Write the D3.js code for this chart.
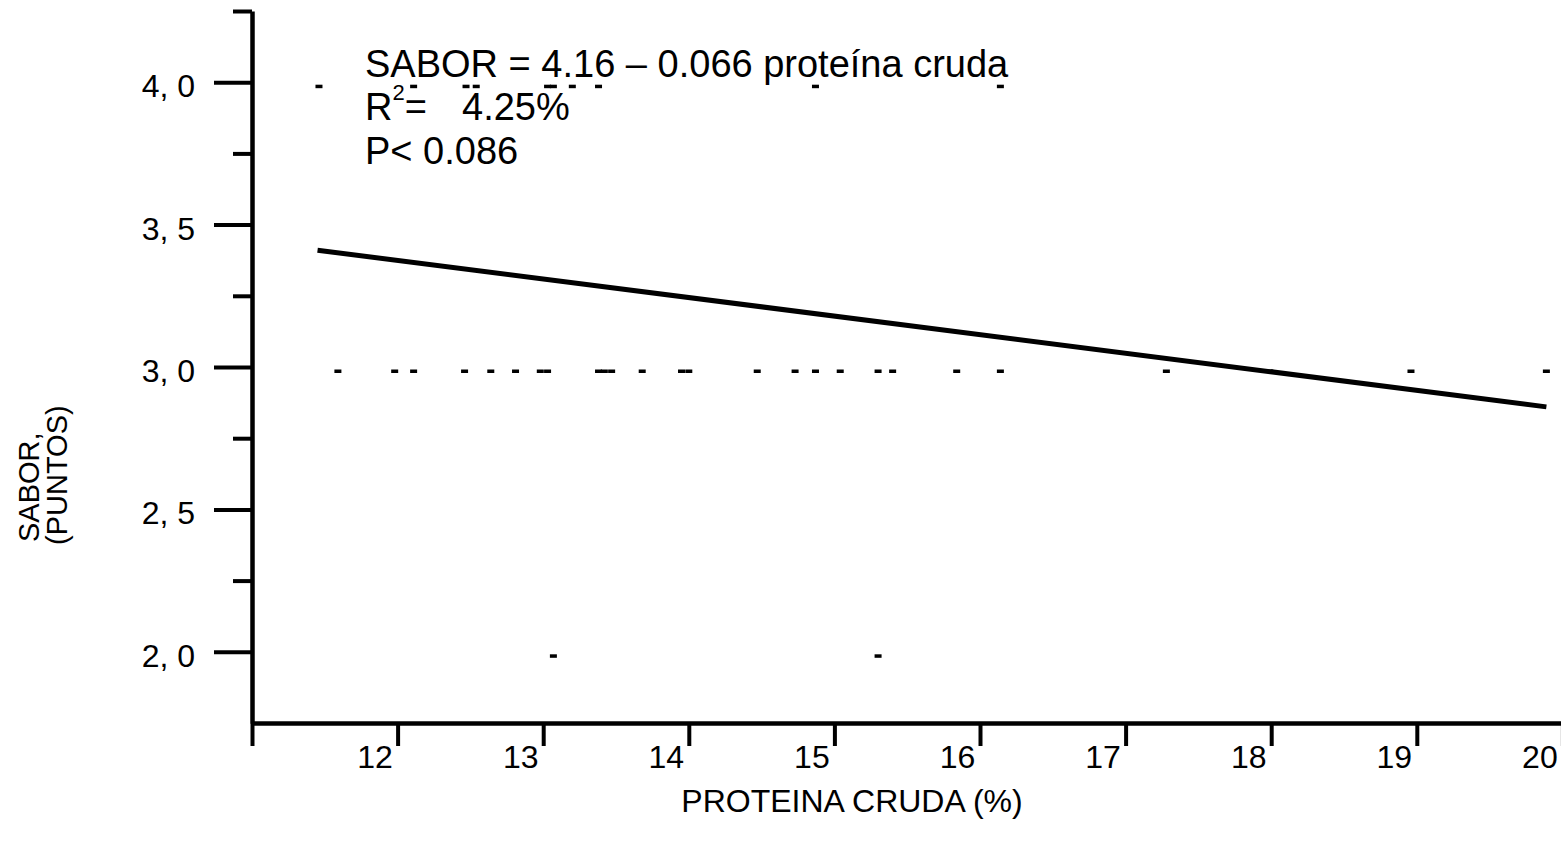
<!DOCTYPE html>
<html>
<head>
<meta charset="utf-8">
<script src="https://cdn.jsdelivr.net/npm/d3@7"></script>
<style>
  body { margin: 0; background: #ffffff; }
  svg { display: block; }
  text { font-family: "Liberation Sans", Arial, sans-serif; fill: #000; }
</style>
</head>
<body>
<svg id="chart" width="1561" height="850"></svg>
<script>
// ---------------- data ----------------
const xTicks = [11, 12, 13, 14, 15, 16, 17, 18, 19, 20];
const xTickLabels = ["", "12", "13", "14", "15", "16", "17", "18", "19", "20"];
const yMajorTicks = [2.0, 2.5, 3.0, 3.5, 4.0];
const yMajorLabels = ["2, 0", "2, 5", "3, 0", "3, 5", "4, 0"];
const yMinorTicks = [2.25, 2.75, 3.25, 3.75, 4.25];

// observations: proteína cruda (%) and sabor (puntos)
const proteina = [
  11.46, 12.11, 12.47, 12.54, 13.03, 13.07, 13.20, 13.38, 14.87, 16.14,
  11.59, 11.98, 12.11, 12.46, 12.64, 12.81, 12.98, 13.03, 13.38, 13.42,
  13.47, 13.68, 13.95, 14.00, 14.47, 14.73, 14.87, 15.04, 15.30, 15.40,
  15.84, 16.14, 17.28, 17.99, 18.96, 19.89,
  13.07, 15.30
];
const sabor = [
  4, 4, 4, 4, 4, 4, 4, 4, 4, 4,
  3, 3, 3, 3, 3, 3, 3, 3, 3, 3,
  3, 3, 3, 3, 3, 3, 3, 3, 3, 3,
  3, 3, 3, 3, 3, 3,
  2, 2
];

// fitted line end points (x, y)
const fitX = [11.45, 19.89];
const fitY = [3.41, 2.86];

const equationLine = "SABOR = 4.16 \u2013 0.066 proteína cruda";
const r2Value = "4.25%";
const pLine = "P< 0.086";
const xTitle = "PROTEINA CRUDA (%)";
const yTitle = ["SABOR,", "(PUNTOS)"];

// ---------------- drawing ----------------
const svg = d3.select("#chart");

const x = d3.scaleLinear().domain([11, 20]).range([252, 252 + 9 * 145.6]);
const y = d3.scaleLinear().domain([1.75, 4.25]).range([723, 11]);

// X axis
const xAxis = svg.append("g")
  .attr("transform", `translate(0,${y(1.75)})`)
  .call(d3.axisBottom(x)
    .tickValues(xTicks)
    .tickSize(23)
    .tickSizeOuter(0)
    .tickFormat((d, i) => xTickLabels[i]));
xAxis.select(".domain").attr("stroke", "#000").attr("stroke-width", 4.5);
xAxis.selectAll(".tick line").attr("stroke", "#000").attr("stroke-width", 4);
xAxis.selectAll(".tick text")
  .attr("font-size", 32)
  .attr("font-family", "Liberation Sans, Arial, sans-serif")
  .attr("y", 45)
  .attr("dy", 0)
  .attr("dx", -23);

// Y axis minor ticks
const yMinor = svg.append("g")
  .attr("transform", `translate(${x(11)},0)`)
  .call(d3.axisLeft(y).tickValues(yMinorTicks).tickSize(19).tickSizeOuter(0).tickFormat(""));
yMinor.select(".domain").remove();
yMinor.selectAll(".tick line").attr("stroke", "#000").attr("stroke-width", 4);

// Y axis major ticks
const yAxis = svg.append("g")
  .attr("transform", `translate(${x(11)},0)`)
  .call(d3.axisLeft(y)
    .tickValues(yMajorTicks)
    .tickSize(38)
    .tickSizeOuter(0)
    .tickPadding(19)
    .tickFormat((d, i) => yMajorLabels[i]));
yAxis.select(".domain").attr("stroke", "#000").attr("stroke-width", 4.5);
yAxis.selectAll(".tick line").attr("stroke", "#000").attr("stroke-width", 4);
yAxis.selectAll(".tick text")
  .attr("font-size", 32)
  .attr("font-family", "Liberation Sans, Arial, sans-serif")
  .attr("dy", "0.45em");

// data points (small dash markers)
svg.append("g").selectAll("rect")
  .data(proteina.map((p, i) => ({ p, s: sabor[i] })))
  .join("rect")
  .attr("x", d => x(d.p) - 3.5)
  .attr("y", d => y(d.s) + 2.5)
  .attr("width", 7)
  .attr("height", 3.5)
  .attr("fill", "#000");

// regression line
svg.append("path")
  .datum(fitX.map((v, i) => [v, fitY[i]]))
  .attr("fill", "none")
  .attr("stroke", "#000")
  .attr("stroke-width", 5)
  .attr("d", d3.line().x(d => x(d[0])).y(d => y(d[1])));

// annotation
const ann = svg.append("g").attr("font-size", 38);
ann.append("text").attr("x", 365).attr("y", 77).text(equationLine);
const r2 = ann.append("text").attr("x", 365).attr("y", 120);
r2.append("tspan").text("R");
r2.append("tspan").attr("font-size", 22).attr("dy", -20).text("2");
r2.append("tspan").attr("dy", 20).text("=");
r2.append("tspan").attr("x", 462).text(r2Value);
ann.append("text").attr("x", 365).attr("y", 164).text(pLine);

// axis titles
svg.append("text")
  .attr("x", 852).attr("y", 812)
  .attr("text-anchor", "middle")
  .attr("font-size", 32)
  .text(xTitle);

svg.append("text")
  .attr("transform", "translate(39,542) rotate(-90)")
  .attr("font-size", 29)
  .text(yTitle[0]);
svg.append("text")
  .attr("transform", "translate(67,545) rotate(-90)")
  .attr("font-size", 29)
  .text(yTitle[1]);
</script>
</body>
</html>
